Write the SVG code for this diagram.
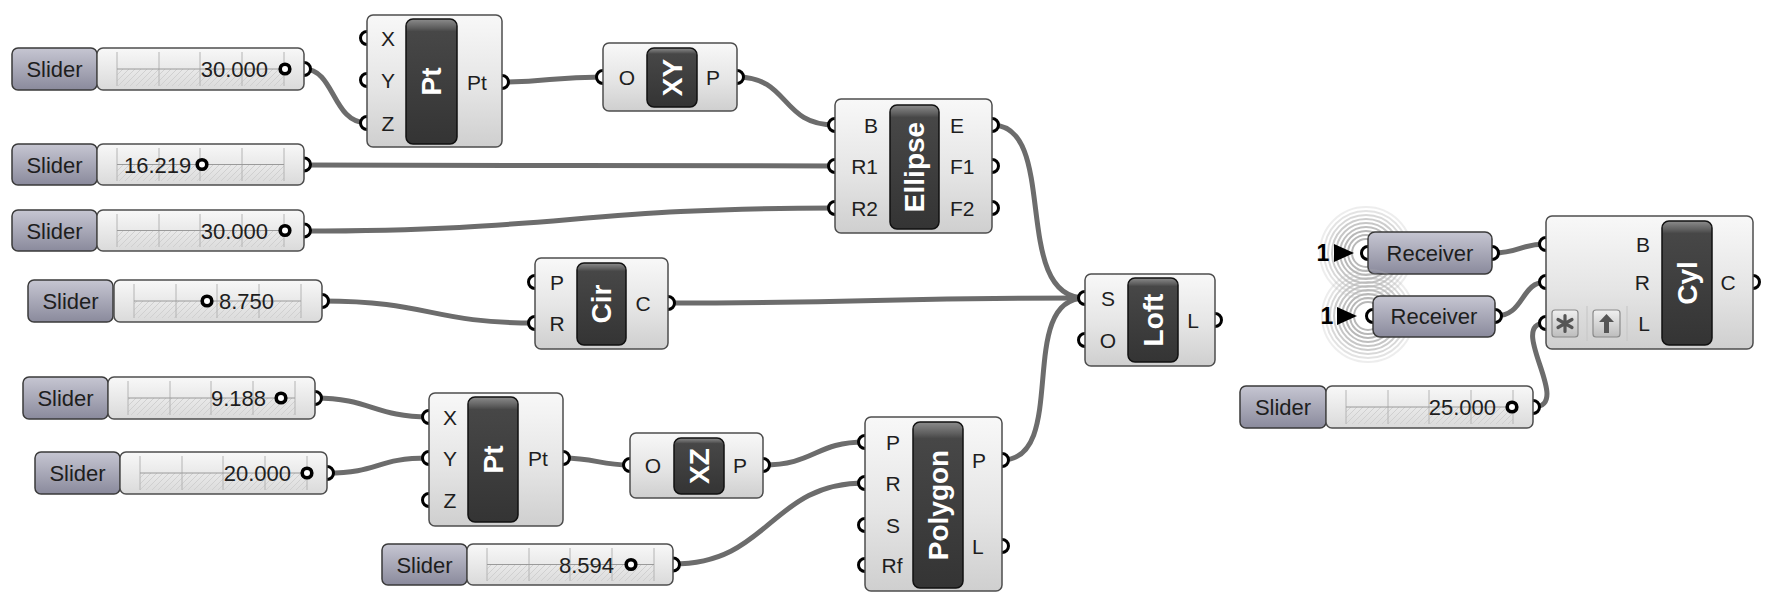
<svg xmlns="http://www.w3.org/2000/svg" width="1773" height="592" viewBox="0 0 1773 592">
<defs>
<linearGradient id="gBody" x1="0" y1="0" x2="0" y2="1"><stop offset="0" stop-color="#f8f8f8"/><stop offset="0.55" stop-color="#e5e5e5"/><stop offset="1" stop-color="#cfcfcf"/></linearGradient>
<linearGradient id="gDark" x1="0" y1="0" x2="0" y2="1"><stop offset="0" stop-color="#8c8c8c"/><stop offset="0.07" stop-color="#5e5e5e"/><stop offset="0.1" stop-color="#474747"/><stop offset="1" stop-color="#343434"/></linearGradient>
<linearGradient id="gLabel" x1="0" y1="0" x2="0" y2="1"><stop offset="0" stop-color="#c6c6d2"/><stop offset="1" stop-color="#8a8a9c"/></linearGradient>
<linearGradient id="gValue" x1="0" y1="0" x2="0" y2="1"><stop offset="0" stop-color="#f8f8f8"/><stop offset="1" stop-color="#dadada"/></linearGradient>
<linearGradient id="gIcon" x1="0" y1="0" x2="0" y2="1"><stop offset="0" stop-color="#f0f0f0"/><stop offset="1" stop-color="#bdbdbd"/></linearGradient>
<pattern id="hatch" width="6" height="6" patternUnits="userSpaceOnUse"><path d="M-1,7 L7,-1" stroke="#d0d0d0" stroke-width="1"/></pattern>
</defs>
<style>
.wire{fill:none;stroke:#6c6c6c;stroke-width:5;stroke-linecap:round}
.body{fill:url(#gBody);stroke:#4d4d4d;stroke-width:1.5}
.cap{fill:url(#gDark);stroke:#111;stroke-width:1.5}
.lab{fill:url(#gLabel);stroke:#3a3a3a;stroke-width:1.5}
.val{fill:url(#gValue);stroke:#4d4d4d;stroke-width:1.5}
.port{fill:#fff;stroke:#000;stroke-width:3}
.t{font-family:"Liberation Sans",Arial,sans-serif;font-size:21px;fill:#1e1e1e}
.ts{font-family:"Liberation Sans",Arial,sans-serif;font-size:22px;fill:#1e1e1e}
.tc{font-family:"Liberation Sans",Arial,sans-serif;font-size:28px;font-weight:bold;fill:#fff}
.tick{stroke:#b4b4b4;stroke-width:1}
.rail{stroke:#9a9a9a;stroke-width:1}
.grip{fill:#fff;stroke:#000;stroke-width:3.6}
.ring{fill:none;stroke:#b8b8b8;stroke-width:2}
.hat{fill:url(#hatch)}
.ico{fill:url(#gIcon);stroke:#8a8a8a;stroke-width:1.2}
.sep{stroke:#c8c8c8;stroke-width:1.2}
</style>
<rect width="1773" height="592" fill="#ffffff"/>

<g id="connectors">
<path class="wire" d="M304,69 C335,69 332,123 367,123"/>
<path class="wire" d="M502,82 C550,82 550,77 603,77"/>
<path class="wire" d="M737,77 C790,77 780,125 835,125"/>
<path class="wire" d="M304,165 C560,165 580,166 835,166"/>
<path class="wire" d="M304,231 C560,231 580,208 835,208"/>
<path class="wire" d="M992,125 C1060,125 1010,298 1085,298"/>
<path class="wire" d="M668,303 C870,303 880,298 1085,298"/>
<path class="wire" d="M322,301 C430,301 430,323 535,323"/>
<path class="wire" d="M315,398 C370,398 375,417 429,417"/>
<path class="wire" d="M327,473 C380,473 375,458 429,458"/>
<path class="wire" d="M563,458 C595,458 600,465 630,465"/>
<path class="wire" d="M763,465 C815,465 815,442 865,442"/>
<path class="wire" d="M673,564 C770,564 770,483 865,483"/>
<path class="wire" d="M1002,460 C1070,460 1015,298 1085,298"/>
<path class="wire" d="M1492,253 C1520,253 1520,244 1546,244"/>
<path class="wire" d="M1495,316 C1525,316 1520,282 1546,282"/>
<path class="wire" d="M1533,407 C1575,407 1505,323 1546,323"/>
</g>

<g id="slider1">
<circle class="port" cx="304" cy="69" r="6.5"/>
<rect class="lab" x="12" y="48" width="85" height="42" rx="6"/>
<text class="ts" x="54.5" y="77" text-anchor="middle">Slider</text>
<rect class="val" x="97" y="48" width="207" height="42" rx="6"/>
<rect class="hat" x="117" y="69" width="167" height="17"/>
<path class="tick" d="M117,52V86M159,52V86M200,52V86M242,52V86M284,52V86"/>
<path class="rail" d="M117,69H284"/>
<text class="ts" x="268" y="77" text-anchor="end">30.000</text>
<circle class="grip" cx="285" cy="69" r="4.8"/>
</g>

<g id="slider2">
<circle class="port" cx="304" cy="164.5" r="6.5"/>
<rect class="lab" x="12" y="144" width="85" height="41" rx="6"/>
<text class="ts" x="54.5" y="172.5" text-anchor="middle">Slider</text>
<rect class="val" x="97" y="144" width="207" height="41" rx="6"/>
<rect class="hat" x="117" y="164.5" width="167" height="16.5"/>
<path class="tick" d="M117,148V181M159,148V181M200,148V181M242,148V181M284,148V181"/>
<path class="rail" d="M117,164.5H284"/>
<text class="ts" x="124" y="172.5">16.219</text>
<circle class="grip" cx="202" cy="164.5" r="4.8"/>
</g>

<g id="slider3">
<circle class="port" cx="304" cy="230.5" r="6.5"/>
<rect class="lab" x="12" y="210" width="85" height="41" rx="6"/>
<text class="ts" x="54.5" y="238.5" text-anchor="middle">Slider</text>
<rect class="val" x="97" y="210" width="207" height="41" rx="6"/>
<rect class="hat" x="117" y="230.5" width="167" height="16.5"/>
<path class="tick" d="M117,214V247M159,214V247M200,214V247M242,214V247M284,214V247"/>
<path class="rail" d="M117,230.5H284"/>
<text class="ts" x="268" y="238.5" text-anchor="end">30.000</text>
<circle class="grip" cx="285" cy="230.5" r="4.8"/>
</g>

<g id="slider4">
<circle class="port" cx="322" cy="301" r="6.5"/>
<rect class="lab" x="28" y="280" width="85" height="42" rx="6"/>
<text class="ts" x="70.5" y="309" text-anchor="middle">Slider</text>
<rect class="val" x="114" y="280" width="208" height="42" rx="6"/>
<rect class="hat" x="134" y="301" width="167" height="17"/>
<path class="tick" d="M134,284V318M176,284V318M217,284V318M259,284V318M301,284V318"/>
<path class="rail" d="M134,301H301"/>
<text class="ts" x="219" y="309">8.750</text>
<circle class="grip" cx="207" cy="301" r="4.8"/>
</g>

<g id="slider5">
<circle class="port" cx="315" cy="398" r="6.5"/>
<rect class="lab" x="23" y="377" width="85" height="42" rx="6"/>
<text class="ts" x="65.5" y="406" text-anchor="middle">Slider</text>
<rect class="val" x="108" y="377" width="207" height="42" rx="6"/>
<rect class="hat" x="128" y="398" width="167" height="17"/>
<path class="tick" d="M128,381V415M170,381V415M211,381V415M253,381V415M295,381V415"/>
<path class="rail" d="M128,398H295"/>
<text class="ts" x="266" y="406" text-anchor="end">9.188</text>
<circle class="grip" cx="281" cy="398" r="4.8"/>
</g>

<g id="slider6">
<circle class="port" cx="327" cy="473" r="6.5"/>
<rect class="lab" x="35" y="452" width="85" height="42" rx="6"/>
<text class="ts" x="77.5" y="481" text-anchor="middle">Slider</text>
<rect class="val" x="120" y="452" width="207" height="42" rx="6"/>
<rect class="hat" x="140" y="473" width="167" height="17"/>
<path class="tick" d="M140,456V490M182,456V490M223,456V490M265,456V490M307,456V490"/>
<path class="rail" d="M140,473H307"/>
<text class="ts" x="291" y="481" text-anchor="end">20.000</text>
<circle class="grip" cx="307" cy="473" r="4.8"/>
</g>

<g id="slider7">
<circle class="port" cx="673" cy="564.5" r="6.5"/>
<rect class="lab" x="382" y="544" width="85" height="41" rx="6"/>
<text class="ts" x="424.5" y="572.5" text-anchor="middle">Slider</text>
<rect class="val" x="467" y="544" width="206" height="41" rx="6"/>
<rect class="hat" x="487" y="564.5" width="167" height="16.5"/>
<path class="tick" d="M487,548V581M529,548V581M570,548V581M612,548V581M654,548V581"/>
<path class="rail" d="M487,564.5H654"/>
<text class="ts" x="614" y="572.5" text-anchor="end">8.594</text>
<circle class="grip" cx="631" cy="564.5" r="4.8"/>
</g>

<g id="slider8">
<circle class="port" cx="1533" cy="407" r="6.5"/>
<rect class="lab" x="1240" y="386" width="86" height="42" rx="6"/>
<text class="ts" x="1283" y="415" text-anchor="middle">Slider</text>
<rect class="val" x="1326" y="386" width="207" height="42" rx="6"/>
<rect class="hat" x="1346" y="407" width="167" height="17"/>
<path class="tick" d="M1346,390V424M1388,390V424M1429,390V424M1471,390V424M1513,390V424"/>
<path class="rail" d="M1346,407H1513"/>
<text class="ts" x="1496" y="415" text-anchor="end">25.000</text>
<circle class="grip" cx="1512" cy="407" r="4.8"/>
</g>

<g id="pt1">
<circle class="port" cx="367" cy="38" r="6.5"/><circle class="port" cx="367" cy="80" r="6.5"/><circle class="port" cx="367" cy="123" r="6.5"/>
<circle class="port" cx="502" cy="82" r="6.5"/>
<rect class="body" x="367" y="15" width="135" height="132" rx="6"/>
<rect class="cap" x="406" y="19" width="51" height="125" rx="7"/>
<text class="t" x="388" y="45.5" text-anchor="middle">X</text>
<text class="t" x="388" y="87.5" text-anchor="middle">Y</text>
<text class="t" x="388" y="130.5" text-anchor="middle">Z</text>
<text class="t" x="477" y="89.5" text-anchor="middle">Pt</text>
<text class="tc" transform="translate(431.5,81.5) rotate(-90)" text-anchor="middle" dy="0.35em">Pt</text>
</g>

<g id="xy">
<circle class="port" cx="603" cy="77" r="6.5"/><circle class="port" cx="737" cy="77" r="6.5"/>
<rect class="body" x="603" y="43" width="134" height="68" rx="6"/>
<rect class="cap" x="647" y="48" width="50" height="59" rx="7"/>
<text class="t" x="627" y="84.5" text-anchor="middle">O</text>
<text class="t" x="713" y="84.5" text-anchor="middle">P</text>
<text class="tc" transform="translate(672,77.5) rotate(-90)" text-anchor="middle" dy="0.35em">XY</text>
</g>

<g id="ellipse">
<circle class="port" cx="835" cy="125" r="6.5"/><circle class="port" cx="835" cy="166" r="6.5"/><circle class="port" cx="835" cy="208" r="6.5"/>
<circle class="port" cx="992" cy="125" r="6.5"/><circle class="port" cx="992" cy="166" r="6.5"/><circle class="port" cx="992" cy="208" r="6.5"/>
<rect class="body" x="835" y="99" width="157" height="134" rx="6"/>
<rect class="cap" x="890" y="105" width="49" height="124" rx="7"/>
<text class="t" x="878" y="132.5" text-anchor="end">B</text>
<text class="t" x="878" y="173.5" text-anchor="end">R1</text>
<text class="t" x="878" y="215.5" text-anchor="end">R2</text>
<text class="t" x="950" y="132.5">E</text>
<text class="t" x="950" y="173.5">F1</text>
<text class="t" x="950" y="215.5">F2</text>
<text class="tc" transform="translate(914.5,167) rotate(-90)" text-anchor="middle" dy="0.35em">Ellipse</text>
</g>

<g id="cir">
<circle class="port" cx="535" cy="282" r="6.5"/><circle class="port" cx="535" cy="323" r="6.5"/>
<circle class="port" cx="668" cy="303" r="6.5"/>
<rect class="body" x="535" y="258" width="133" height="91" rx="6"/>
<rect class="cap" x="577" y="263" width="49" height="82" rx="7"/>
<text class="t" x="557" y="289.5" text-anchor="middle">P</text>
<text class="t" x="557" y="330.5" text-anchor="middle">R</text>
<text class="t" x="643" y="310.5" text-anchor="middle">C</text>
<text class="tc" transform="translate(601.5,304) rotate(-90)" text-anchor="middle" dy="0.35em">Cir</text>
</g>

<g id="pt2">
<circle class="port" cx="429" cy="417" r="6.5"/><circle class="port" cx="429" cy="458" r="6.5"/><circle class="port" cx="429" cy="500" r="6.5"/>
<circle class="port" cx="563" cy="458" r="6.5"/>
<rect class="body" x="429" y="393" width="134" height="133" rx="6"/>
<rect class="cap" x="468" y="397" width="50" height="125" rx="7"/>
<text class="t" x="450" y="424.5" text-anchor="middle">X</text>
<text class="t" x="450" y="465.5" text-anchor="middle">Y</text>
<text class="t" x="450" y="507.5" text-anchor="middle">Z</text>
<text class="t" x="538" y="465.5" text-anchor="middle">Pt</text>
<text class="tc" transform="translate(493,459.5) rotate(-90)" text-anchor="middle" dy="0.35em">Pt</text>
</g>

<g id="xz">
<circle class="port" cx="630" cy="465" r="6.5"/><circle class="port" cx="763" cy="465" r="6.5"/>
<rect class="body" x="630" y="433" width="133" height="65" rx="6"/>
<rect class="cap" x="674" y="438" width="50" height="56" rx="7"/>
<text class="t" x="653" y="472.5" text-anchor="middle">O</text>
<text class="t" x="740" y="472.5" text-anchor="middle">P</text>
<text class="tc" transform="translate(699,466) rotate(-90)" text-anchor="middle" dy="0.35em">XZ</text>
</g>

<g id="polygon">
<circle class="port" cx="865" cy="442" r="6.5"/><circle class="port" cx="865" cy="483" r="6.5"/><circle class="port" cx="865" cy="525" r="6.5"/><circle class="port" cx="865" cy="565" r="6.5"/>
<circle class="port" cx="1002" cy="460" r="6.5"/><circle class="port" cx="1002" cy="546" r="6.5"/>
<rect class="body" x="865" y="417" width="137" height="174" rx="6"/>
<rect class="cap" x="913" y="422" width="50" height="166" rx="7"/>
<text class="t" x="893" y="449.5" text-anchor="middle">P</text>
<text class="t" x="893" y="490.5" text-anchor="middle">R</text>
<text class="t" x="893" y="532.5" text-anchor="middle">S</text>
<text class="t" x="892" y="572.5" text-anchor="middle">Rf</text>
<text class="t" x="972" y="467.5">P</text>
<text class="t" x="972" y="553.5">L</text>
<text class="tc" transform="translate(938,505) rotate(-90)" text-anchor="middle" dy="0.35em">Polygon</text>
</g>

<g id="loft">
<circle class="port" cx="1085" cy="298" r="6.5"/><circle class="port" cx="1085" cy="340" r="6.5"/>
<circle class="port" cx="1215" cy="320" r="6.5"/>
<rect class="body" x="1085" y="274" width="130" height="92" rx="6"/>
<rect class="cap" x="1128" y="278" width="50" height="84" rx="7"/>
<text class="t" x="1108" y="305.5" text-anchor="middle">S</text>
<text class="t" x="1108" y="347.5" text-anchor="middle">O</text>
<text class="t" x="1193" y="327.5" text-anchor="middle">L</text>
<text class="tc" transform="translate(1153,320) rotate(-90)" text-anchor="middle" dy="0.35em">Loft</text>
</g>

<g id="receiver1">
<g>
<circle class="ring" cx="1366" cy="253" r="14"/><circle class="ring" cx="1366" cy="253" r="18"/><circle class="ring" cx="1366" cy="253" r="22"/><circle class="ring" cx="1366" cy="253" r="26" opacity="0.9"/><circle class="ring" cx="1366" cy="253" r="30" opacity="0.8"/><circle class="ring" cx="1366" cy="253" r="34" opacity="0.7"/><circle class="ring" cx="1366" cy="253" r="38" opacity="0.55"/><circle class="ring" cx="1366" cy="253" r="42" opacity="0.4"/><circle class="ring" cx="1366" cy="253" r="46" opacity="0.25"/>
</g>
<text x="1323" y="261" text-anchor="middle" font-family="Liberation Sans, Arial, sans-serif" font-size="23" font-weight="bold" fill="#000">1</text>
<path d="M1334,244 L1354,253 L1334,262 Z" fill="#000"/>
<circle class="port" cx="1368" cy="253" r="6.5"/>
<circle class="port" cx="1492" cy="253" r="6.5"/>
<rect class="lab" x="1368" y="232" width="124" height="42" rx="7"/>
<text class="ts" x="1430" y="261" text-anchor="middle">Receiver</text>
</g>

<g id="receiver2">
<g>
<circle class="ring" cx="1368" cy="316" r="14"/><circle class="ring" cx="1368" cy="316" r="18"/><circle class="ring" cx="1368" cy="316" r="22"/><circle class="ring" cx="1368" cy="316" r="26" opacity="0.9"/><circle class="ring" cx="1368" cy="316" r="30" opacity="0.8"/><circle class="ring" cx="1368" cy="316" r="34" opacity="0.7"/><circle class="ring" cx="1368" cy="316" r="38" opacity="0.55"/><circle class="ring" cx="1368" cy="316" r="42" opacity="0.4"/><circle class="ring" cx="1368" cy="316" r="46" opacity="0.25"/>
</g>
<text x="1327" y="324" text-anchor="middle" font-family="Liberation Sans, Arial, sans-serif" font-size="23" font-weight="bold" fill="#000">1</text>
<path d="M1337,307 L1357,316 L1337,325 Z" fill="#000"/>
<circle class="port" cx="1373" cy="316" r="6.5"/>
<circle class="port" cx="1495" cy="316" r="6.5"/>
<rect class="lab" x="1373" y="296" width="122" height="41" rx="7"/>
<text class="ts" x="1434" y="324" text-anchor="middle">Receiver</text>
</g>

<g id="cyl">
<circle class="port" cx="1546" cy="244" r="6.5"/><circle class="port" cx="1546" cy="282" r="6.5"/><circle class="port" cx="1546" cy="323" r="6.5"/>
<circle class="port" cx="1753" cy="282" r="6.5"/>
<rect class="body" x="1546" y="216" width="207" height="133" rx="6"/>
<rect class="cap" x="1662" y="221" width="50" height="124" rx="7"/>
<text class="t" x="1650" y="251.5" text-anchor="end">B</text>
<text class="t" x="1650" y="289.5" text-anchor="end">R</text>
<text class="t" x="1650" y="330.5" text-anchor="end">L</text>
<text class="t" x="1728" y="289.5" text-anchor="middle">C</text>
<text class="tc" transform="translate(1687,283) rotate(-90)" text-anchor="middle" dy="0.35em">Cyl</text>
<path class="sep" d="M1587,306V341M1627,306V341"/>
<rect class="ico" x="1552" y="310" width="26" height="27" rx="3"/>
<path d="M1565,315.5V331.5M1558,319.5L1572,327.5M1558,327.5L1572,319.5" stroke="#555" stroke-width="3.2" stroke-linecap="round"/>
<rect class="ico" x="1593" y="310" width="27" height="27" rx="3"/>
<path d="M1606.5,314 L1614,322 L1609,322 L1609,333 L1604,333 L1604,322 L1599,322 Z" fill="#555"/>
</g>
</svg>
